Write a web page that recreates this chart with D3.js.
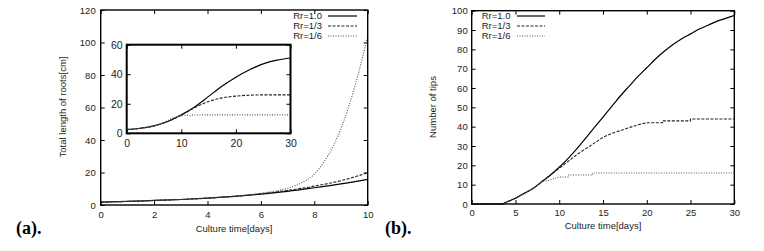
<!DOCTYPE html>
<html>
<head>
<meta charset="utf-8">
<script src="https://cdn.jsdelivr.net/npm/d3@7"></script>
<style>
  body { margin: 0; background: #fff; }
  svg text { font-family: "Liberation Sans", Arial, sans-serif; fill: #222; }
  .axis path { display: none; }
  .axis line { stroke: #000; stroke-width: 1; }
  .tag { font-family: "Liberation Serif", "Times New Roman", serif !important; font-weight: bold; fill: #000 !important; }
</style>
</head>
<body>
<script>
// ---- data ----
const seriesNames = ["Rr=1.0", "Rr=1/3", "Rr=1/6"];

// (a) total root length, days 0-10
const lenRr1  = [[0,1.8],[1,2.2],[2,2.8],[3,3.4],[4,4.2],[5,5.3],[6,6.7],[7,8.4],[8,10.6],[9,13],[10,15.8]];
const lenRr3  = [[0,1.8],[1,2.2],[2,2.8],[3,3.4],[4,4.2],[5,5.3],[6,6.9],[7,9],[8,11.6],[9,15],[10,19.8]];
const lenRr6  = [[0,1.8],[1,2.2],[2,2.8],[3,3.4],[4,4.3],[5,5.4],[6,7.2],[6.5,8.5],[7,10.3],[7.5,13.5],[8,19],[8.5,30],[9,47],[9.5,72],[10,104]];

// (a) inset, days 0-30
const insetRr1 = [[0,2.5],[2.5,3.4],[5,5],[7.5,8],[10,12.5],[12.5,18],[15,25],[17.5,32],[20,38],[22.5,43],[25,47],[27.5,49.5],[30,51]];
const insetRr3 = [[0,2.5],[2.5,3.4],[5,5],[7.5,8],[10,12.3],[12.5,17.5],[15,21.5],[17.5,24],[20,25.2],[22.5,25.8],[25,26],[30,26]];
const insetRr6 = [[0,2.5],[2.5,3.4],[5,5],[7,7.8],[8,9.6],[9,11],[10,11.8],[12,12.3],[15,12.5],[30,12.5]];

// (b) number of tips, days 0-30
const tipsRr1 = [[0,0],[3.5,0],[4,1],[5,3],[6,5.5],[7,8],[8,11.5],[9,15],[10,19],[11,23.5],[12,28.5],[13,34],[14,39.5],[15,45],[16,50.5],[17,56],[18,61],[19,66],[20,70.5],[21,75],[22,79],[23,82.5],[24,85.5],[25,88],[26,90.5],[27,92.5],[28,94.5],[29,96],[30,97.5]];
const tipsRr3 = [[0,0],[3.5,0],[4,1],[5,3],[6,5.5],[7,8],[8,11.5],[9,15],[10,18.5],[11,22],[12,25.5],[13,28.5],[14,31.5],[15,34.5],[16,36.5],[17,38],[18,39.5],[19,41],[20,42],[21.8,42],[21.8,43],[25,43],[25,44],[30,44]];
const tipsRr6 = [[0,0],[3.5,0],[4,1],[5,3],[6,5.5],[7,8],[8,11.5],[9,12.5],[10,14],[11,14],[11,15],[13.8,15],[13.8,16],[30,16]];

const lenTicksX = d3.range(0, 11, 2),  lenTicksY = d3.range(0, 121, 20);
const insetTicksX = [0, 10, 20, 30],   insetTicksY = [0, 20, 40, 60];
const tipsTicksX = d3.range(0, 31, 5), tipsTicksY = d3.range(0, 101, 10);

// line styles per series
const styles = [
  {stroke: "#000", dash: null, width: 1.2},
  {stroke: "#222", dash: "3,1.5", width: 1.1},
  {stroke: "#555", dash: "1,1.5", width: 1.1}
];

const svg = d3.select("body").append("svg")
    .attr("width", 764)
    .attr("height", 251);

// draws a gnuplot-like framed panel, ticks pointing inward and mirrored
function panel(x, y, tx, ty, opt) {
  const [x0, x1] = x.range(), [y0, y1] = y.range();
  const g = svg.append("g");

  g.append("rect")
    .attr("x", x0).attr("y", y1)
    .attr("width", x1 - x0).attr("height", y0 - y1)
    .attr("fill", "#fff");

  const fs = opt.fontSize;
  g.append("g").attr("class", "axis").attr("transform", `translate(0,${y0})`)
    .call(d3.axisBottom(x).tickValues(tx).tickSize(-4).tickPadding(opt.padX))
    .selectAll("text").style("font-size", fs + "px");
  g.append("g").attr("class", "axis").attr("transform", `translate(${x0},0)`)
    .call(d3.axisLeft(y).tickValues(ty).tickSize(-4).tickPadding(opt.padY))
    .selectAll("text").style("font-size", fs + "px");
  g.append("g").attr("class", "axis").attr("transform", `translate(0,${y1})`)
    .call(d3.axisTop(x).tickValues(tx).tickSize(-4).tickFormat(""));
  g.append("g").attr("class", "axis").attr("transform", `translate(${x1},0)`)
    .call(d3.axisRight(y).tickValues(ty).tickSize(-4).tickFormat(""));

  opt.series.forEach((s, i) => {
    // smooth curves for the continuous series, straight segments for the stepped ones
    const line = d3.line()
        .x(d => x(d[0])).y(d => y(d[1]))
        .curve(opt.steps && opt.steps[i] ? d3.curveLinear : d3.curveMonotoneX);
    g.append("path")
      .datum(s)
      .attr("d", line)
      .attr("fill", "none")
      .attr("stroke", styles[i].stroke)
      .attr("stroke-width", styles[i].width)
      .attr("stroke-dasharray", styles[i].dash);
  });

  g.append("rect")
    .attr("x", x0).attr("y", y1)
    .attr("width", x1 - x0).attr("height", y0 - y1)
    .attr("fill", "none").attr("stroke", "#000").attr("stroke-width", opt.frame);
  return g;
}

function legend(xText, xLine0, xLine1, yTop) {
  seriesNames.forEach((name, i) => {
    const yy = yTop + i * 10;
    svg.append("text")
      .attr("x", xText).attr("y", yy).attr("dy", "0.35em")
      .attr("text-anchor", "end")
      .style("font-size", "9.5px")
      .text(name);
    svg.append("line")
      .attr("x1", xLine0).attr("x2", xLine1).attr("y1", yy).attr("y2", yy)
      .attr("stroke", styles[i].stroke)
      .attr("stroke-width", styles[i].width)
      .attr("stroke-dasharray", styles[i].dash);
  });
}

// ---- (a) ----
const xA = d3.scaleLinear().domain([0, 10]).range([100.7, 367.7]);
const yA = d3.scaleLinear().domain([0, 120]).range([205, 10]);
panel(xA, yA, lenTicksX, lenTicksY, {series: [lenRr1, lenRr3, lenRr6], fontSize: 9.5, padX: 6, padY: 5, frame: 1.4});
legend(322, 328, 357, 16);

const xI = d3.scaleLinear().domain([0, 30]).range([126.7, 290.5]);
const yI = d3.scaleLinear().domain([0, 60]).range([133.3, 44.7]);
panel(xI, yI, insetTicksX, insetTicksY, {series: [insetRr1, insetRr3, insetRr6], fontSize: 10.5, padX: 6, padY: 4, frame: 2});

svg.append("text")
  .attr("transform", "translate(66,107) rotate(-90)")
  .attr("text-anchor", "middle")
  .style("font-size", "9.5px")
  .text("Total length of roots[cm]");
svg.append("text")
  .attr("x", 234).attr("y", 232)
  .attr("text-anchor", "middle")
  .style("font-size", "9.5px")
  .text("Culture time[days]");
svg.append("text").attr("class", "tag")
  .attr("x", 16).attr("y", 234)
  .style("font-size", "18px")
  .text("(a).");

// ---- (b) ----
const xB = d3.scaleLinear().domain([0, 30]).range([471.7, 734.3]);
const yB = d3.scaleLinear().domain([0, 100]).range([204, 10.7]);
panel(xB, yB, tipsTicksX, tipsTicksY, {series: [tipsRr1, tipsRr3, tipsRr6], steps: [false, true, true], fontSize: 9.5, padX: 5, padY: 4, frame: 1.4});
legend(510.5, 517, 545, 16);

svg.append("text")
  .attr("transform", "translate(436,107) rotate(-90)")
  .attr("text-anchor", "middle")
  .style("font-size", "9.5px")
  .text("Number of tips");
svg.append("text")
  .attr("x", 603).attr("y", 229)
  .attr("text-anchor", "middle")
  .style("font-size", "9.5px")
  .text("Culture time[days]");
svg.append("text").attr("class", "tag")
  .attr("x", 385).attr("y", 234)
  .style("font-size", "18px")
  .text("(b).");
</script>
</body>
</html>
